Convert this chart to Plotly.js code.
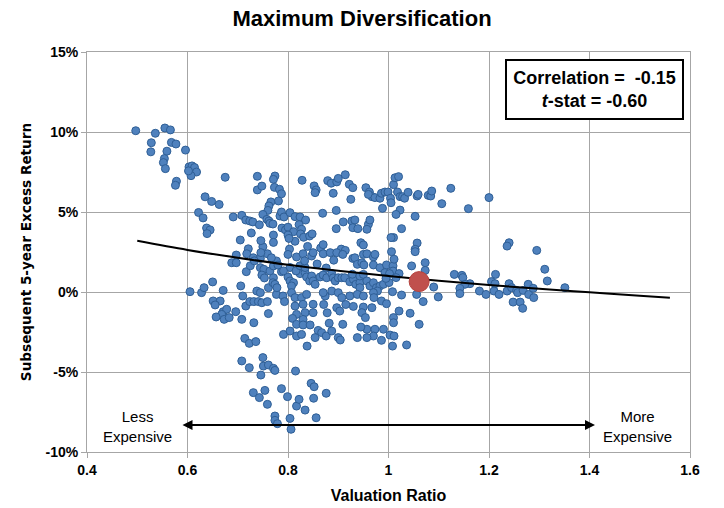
<!DOCTYPE html>
<html>
<head>
<meta charset="utf-8">
<script src="https://cdn.plot.ly/plotly-3.0.1.min.js"></script>
<style>html,body{margin:0;padding:0;background:#fff;}#chart{width:724px;height:508px;}</style>
</head>
<body>
<div id="chart"></div>
<script>
// ---------- DATA ----------
// Valuation ratio (x) and subsequent 5-year excess return in % (y), grouped by region
const ratioA = [0.497,0.536,0.555,0.566,0.528,0.527,0.568,0.577,0.559,0.554,0.552,0.556,0.596,0.603,0.609,0.614,0.618,0.607,0.602,0.578,0.576,0.675,0.635,0.648,0.663,0.622,0.631,0.638,0.645,0.639];
const returnA = [10.08,9.92,10.25,10.13,9.33,8.76,9.35,9.25,8.8,8.34,8.09,7.71,8.87,7.82,7.88,7.78,7.5,7.27,7.57,6.92,6.67,7.17,5.95,5.66,5.47,4.97,4.63,4.0,3.88,3.65];

const ratioB = [0.739,0.774,0.771,0.739,0.748,0.773,0.783,0.787,0.828,0.852,0.856,0.854,0.879,0.886,0.897,0.900,0.914,
  0.781,0.766,0.762,0.760,
  0.691,0.708,0.716,0.724,0.730,0.743,0.750,0.758,0.762,0.764,0.770,0.784,0.787,0.792,0.804,0.814,0.824,0.835,0.869,
  0.788,0.795,0.800,0.822,0.827,0.811,0.800,0.825,0.831,0.843,0.848,0.814,0.802,
  0.705,0.727,0.750,0.771,0.771,0.746,0.721,0.839,0.803,0.865,0.870,
  0.890,0.922,0.929,0.925,0.955,0.962,0.967,0.960,0.973,0.983,0.986,0.993,0.999,1.004,1.005,1.010,1.013,1.020,1.018,1.023,1.028,1.032,1.039,
  0.988,1.023,1.015,1.053,0.896,
  0.896,0.910,0.927,0.933,0.929,0.939,0.960,0.963,0.957,1.026,1.010,1.005,1.057,1.053,0.945,0.950,
  0.906,0.914];
const returnB = [7.23,7.25,7.04,6.38,6.62,6.54,6.42,6.14,6.98,6.63,6.38,6.21,6.96,6.80,6.88,7.10,7.33,
  5.69,5.63,5.38,5.10,
  4.69,4.79,4.50,4.44,4.38,4.20,4.85,4.54,4.44,4.29,4.25,4.75,5.00,4.69,4.96,4.71,4.69,4.50,4.92,
  4.00,3.88,4.05,4.21,3.92,3.77,3.56,3.63,3.42,3.50,3.63,3.17,3.35,
  3.25,3.69,2.83,3.56,3.10,3.21,2.70,2.85,2.68,2.75,2.96,
  6.17,6.73,6.52,5.79,6.52,6.25,5.96,6.10,5.90,5.86,6.17,6.25,6.25,5.86,5.58,6.71,7.14,7.21,6.25,5.96,5.96,5.86,6.23,
  5.23,5.12,4.85,4.73,5.10,
  3.96,4.38,4.44,4.50,4.02,3.96,4.23,4.50,3.92,3.96,3.40,3.40,3.06,2.67,3.08,2.94,
  2.68,2.60];

const ratioC = [1.057,1.059,1.079,1.084,1.086,1.106,1.124,1.159,1.200,1.240,1.236,1.295];
const returnC = [6.00,6.10,6.04,6.00,6.31,5.52,6.48,5.21,5.90,3.08,2.87,2.60];

const ratioD1 = [0.697,0.688,0.697,0.718,0.731,0.745,0.759,0.746,0.717,0.745,0.752,0.748,0.764,0.761,0.706,0.738,0.745,0.710,0.605,0.628,0.633,0.650,0.671,0.651,0.665,0.655,0.671,0.678,0.668,0.657,0.673,0.683,0.696,0.708,0.716,0.724,0.732,0.741,0.748,0.759,0.761,0.732,0.725,0.733,0.753,0.777,0.771];
const returnD1 = [2.31,1.83,1.83,2.39,2.14,2.10,2.39,2.46,1.27,1.52,1.42,1.06,1.31,0.27,0.38,0.06,-0.04,-0.25,0.02,-0.04,0.27,0.63,0.10,-0.56,-0.56,-0.81,-1.23,-1.08,-1.40,-1.56,-1.71,-1.60,-1.23,-1.71,-0.88,-0.60,-0.60,-0.60,-0.67,-0.60,-1.35,-1.92,1.64,1.95,0.88,1.94,1.63];

const ratioD2 = [0.767,0.800,0.817,0.830,0.847,0.850,0.870,0.884,0.897,0.909,0.929,0.933,0.938,
  0.771,0.770,0.774,0.787,0.800,0.804,0.811,0.807,0.824,0.834,0.837,0.843,0.847,0.850,0.854,0.864,0.870,0.877,0.887,0.890,0.894,0.900,0.907,0.913,0.923,0.930,0.935,0.943,0.943,
  0.777,0.790,0.807,0.814,0.827,0.837,0.830,0.814,0.817,0.834,0.850,0.830,0.850,0.874,0.870,0.887,0.900,0.907,0.923,0.938,0.897,0.903,
  0.780,0.804,0.816,0.824,0.834,0.833,0.791,0.891,0.928,0.876,0.858,0.871,0.878,0.915,0.930,0.778,0.793,0.809];
const returnD2 = [2.14,2.35,2.19,2.39,2.25,2.46,2.39,2.46,2.46,2.35,2.10,2.14,1.73,
  0.89,0.58,0.48,1.27,0.94,0.69,0.58,0.38,1.15,1.21,0.94,0.69,1.00,0.69,0.48,0.94,1.06,0.89,1.15,0.89,0.69,0.89,0.89,0.89,0.64,0.79,0.48,0.58,0.27,
  -0.15,-0.25,-0.04,-0.35,-0.35,-0.15,-0.77,-0.88,-1.40,-1.29,-1.29,-1.71,-0.77,-0.25,-0.04,0.06,-0.04,-0.35,-0.25,-0.15,-0.98,-1.19,
  1.68,1.53,1.32,1.64,1.53,1.95,1.32,1.99,1.11,1.50,1.75,-0.78,-1.30,-0.78,-0.90,0.27,-0.60,-1.65];

const ratioD3 = [0.950,0.957,0.970,0.973,1.006,1.053,0.947,0.951,0.970,0.983,0.996,1.009,1.009,0.993,1.002,1.021,1.046,1.073,1.073,1.131,
  0.943,0.950,0.957,0.963,0.970,0.976,0.983,0.990,0.978,0.970,0.950,0.971,0.986,0.996,1.008,1.026,1.056,1.069,1.090,1.099,
  0.950,0.947,0.967,0.954,1.010,1.021,1.043,1.061,1.010,0.957,0.973,0.990,
  1.001,0.995,1.015,1.011];
const returnD3 = [2.35,2.39,2.19,2.35,2.52,2.52,1.83,1.69,1.69,1.52,1.69,1.63,1.31,1.21,1.15,1.15,1.63,1.83,1.35,1.10,
  1.00,1.10,0.69,0.38,0.58,0.27,0.38,0.48,0.06,-0.04,-0.25,-0.35,-0.56,-0.73,0.02,-0.19,-0.15,-0.60,0.31,-0.31,
  -0.94,-1.29,-0.98,-1.60,-1.60,-1.19,-1.33,-2.02,-1.92,-2.33,-2.33,-2.33,
  0.59,0.85,0.90,2.05];

const ratioE = [1.311,1.316,1.146,1.148,1.162,1.152,1.142,1.142,1.181,1.194,1.213,1.205,1.212,1.210,1.220,1.236,1.240,1.245,1.255,1.257,1.268,1.278,1.279,1.288,1.289,1.248,1.262,1.267,1.351];
const returnE = [1.42,0.69,1.04,0.90,0.52,0.48,0.23,-0.10,0.06,-0.15,1.10,0.65,0.52,0.06,-0.15,0.06,0.52,0.27,0.10,-0.04,0.10,0.48,-0.15,0.23,-0.35,-0.63,-0.63,-1.02,0.27];

const ratioF = [0.791,0.804,0.817,0.817,0.827,0.830,0.844,0.838,0.854,0.860,0.867,0.876,0.882,0.887,0.900,
  0.714,0.723,0.736,
  0.708,0.723,0.750,0.751,0.761,0.771,0.774,0.746,0.815,
  0.731,0.743,0.754,0.759,0.787,0.799,0.817,0.822,0.834,0.846,0.852,0.851,0.856,0.876,
  0.774,0.774,0.779,0.804,0.806,
  0.909,0.945,0.970,0.986,1.003,1.011,1.008,1.036,0.938,0.957,0.904];
const returnF = [-2.65,-2.44,-2.02,-2.75,-2.65,-2.06,-2.06,-3.38,-2.85,-2.40,-2.54,-2.75,-1.95,-2.44,-2.85,
  -2.90,-3.21,-3.10,
  -4.31,-4.73,-4.10,-4.63,-4.56,-4.77,-4.90,-5.19,-4.94,
  -6.29,-6.60,-6.15,-7.02,-6.04,-6.54,-7.13,-6.71,-7.38,-5.71,-5.92,-6.64,-7.86,-6.33,
  -7.75,-8.02,-8.23,-7.90,-8.58,
  -2.02,-2.19,-2.75,-3.02,-2.69,-2.75,-3.38,-3.31,-2.85,-2.85,-3.00];

// Current observation (large red dot)
const currentRatio = [1.061];
const currentReturn = [0.65];

// Fitted curve
const fitRatio  = [0.50,0.60,0.70,0.80,0.90,1.00,1.10,1.20,1.30,1.40,1.50,1.56];
const fitReturn = [3.20,2.63,2.14,1.70,1.33,1.00,0.71,0.44,0.20,-0.02,-0.24,-0.36];

// Axis ticks
const xTicks = [0.4,0.6,0.8,1.0,1.2,1.4,1.6];
const xTickLabels = ['0.4','0.6','0.8','1','1.2','1.4','1.6'];
const yTicks = [-10,-5,0,5,10,15];
const yTickLabels = ['-10%','-5%','0%','5%','10%','15%'];

// Text
const chartTitle = 'Maximum Diversification';
const statsText = 'Correlation =\u00a0\u00a0-0.15<br><i>t</i>-stat = -0.60';

// ---------- CHART ----------
const ratioAll = [].concat(ratioA, ratioB, ratioC, ratioD1, ratioD2, ratioD3, ratioE, ratioF);
const returnAll = [].concat(returnA, returnB, returnC, returnD1, returnD2, returnD3, returnE, returnF);

const FONT = "'Liberation Sans Narrow', 'Liberation Sans', Arial, sans-serif";

const traces = [
  {
    type: 'scatter', mode: 'markers', x: ratioAll, y: returnAll,
    marker: {size: 8, color: '#4f81bd', line: {color: '#2f5f96', width: 1}},
    hoverinfo: 'skip'
  },
  {
    type: 'scatter', mode: 'lines', x: fitRatio, y: fitReturn,
    line: {color: '#000', width: 2, shape: 'spline'}, hoverinfo: 'skip'
  },
  {
    type: 'scatter', mode: 'markers', x: currentRatio, y: currentReturn,
    marker: {size: 20, color: '#c0504d', line: {color: '#b5443f', width: 1}}, hoverinfo: 'skip'
  }
];

const axisCommon = {
  showgrid: true, gridcolor: '#a6a6a6', gridwidth: 1,
  showline: true, linecolor: '#a6a6a6', linewidth: 1, mirror: true,
  ticks: 'outside', ticklen: 5, tickcolor: '#a6a6a6',
  zeroline: false,
  tickfont: {family: FONT, size: 14, color: '#000', weight: 'bold'}
};

const layout = {
  width: 724, height: 508,
  margin: {l: 87, r: 34, t: 52, b: 56},
  paper_bgcolor: '#fff', plot_bgcolor: '#fff',
  showlegend: false,
  title: {
    text: chartTitle, x: 0.5, xref: 'container', xanchor: 'center',
    y: 0.963, yref: 'container', yanchor: 'middle',
    font: {family: FONT, size: 22, color: '#000', weight: 'bold'}
  },
  xaxis: Object.assign({}, axisCommon, {
    range: [0.4, 1.6], tickvals: xTicks, ticktext: xTickLabels,
    title: {text: 'Valuation Ratio', standoff: 13, font: {family: FONT, size: 16, color: '#000', weight: 'bold'}}
  }),
  yaxis: Object.assign({}, axisCommon, {
    range: [-10, 15], tickvals: yTicks, ticktext: yTickLabels,
    title: {text: 'Subsequent 5-year Excess Return', standoff: 10, font: {family: "'DejaVu Sans', Verdana, sans-serif", size: 13.6, color: '#000', weight: 'bold'}}
  }),
  annotations: [
    {
      xref: 'x', yref: 'y', x: 1.41, y: 12.66, text: statsText, showarrow: false,
      font: {family: FONT, size: 18, color: '#000', weight: 'bold'},
      bordercolor: '#000', borderwidth: 2, borderpad: 1, bgcolor: '#fff',
      width: 173, height: 55, align: 'center'
    },
    {
      xref: 'x', yref: 'y', x: 0.501, y: -8.41, text: 'Less<br>Expensive', showarrow: false,
      font: {family: FONT, size: 15, color: '#000'}, align: 'center'
    },
    {
      xref: 'x', yref: 'y', x: 1.495, y: -8.41, text: 'More<br>Expensive', showarrow: false,
      font: {family: FONT, size: 15, color: '#000'}, align: 'center'
    },
    {
      xref: 'x', yref: 'y', axref: 'x', ayref: 'y',
      x: 1.411, y: -8.32, ax: 0.587, ay: -8.32, text: '',
      showarrow: true, arrowhead: 2, startarrowhead: 2, arrowside: 'end+start',
      arrowsize: 1, startarrowsize: 1, arrowwidth: 2, arrowcolor: '#000'
    }
  ]
};

Plotly.newPlot('chart', traces, layout, {staticPlot: true, displayModeBar: false});
</script>
</body>
</html>
